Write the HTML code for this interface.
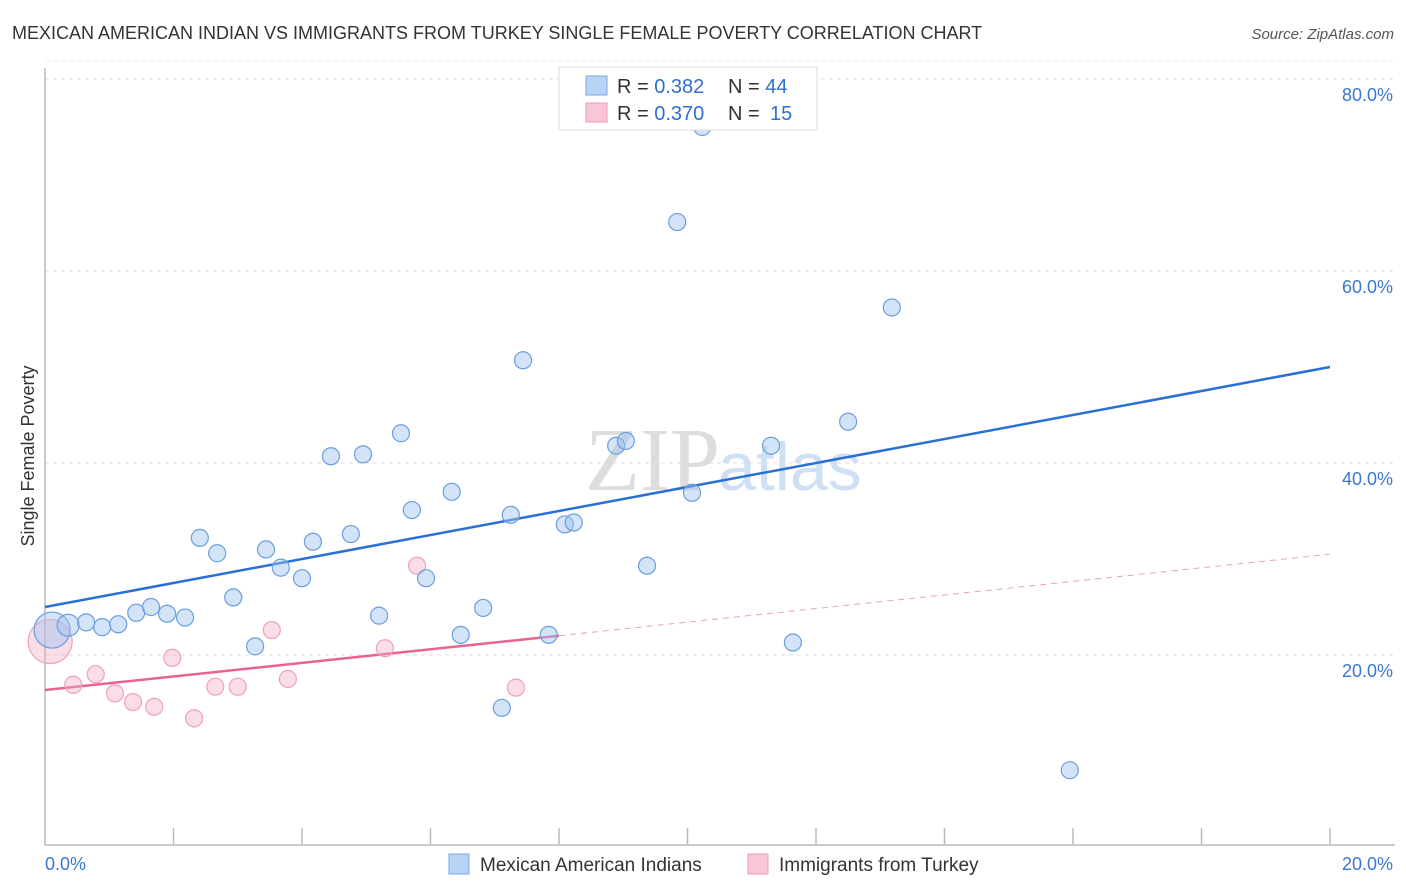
<!DOCTYPE html>
<html><head><meta charset="utf-8"><style>
body{margin:0;background:#fff;font-family:"Liberation Sans",sans-serif}
svg{display:block}
</style></head><body>
<svg id="c" width="1406" height="892" xmlns="http://www.w3.org/2000/svg">
<text x="12" y="39" font-size="18" fill="#333">MEXICAN AMERICAN INDIAN VS IMMIGRANTS FROM TURKEY SINGLE FEMALE POVERTY CORRELATION CHART</text>
<text x="1394" y="39" font-size="15" fill="#555" font-style="italic" text-anchor="end">Source: ZipAtlas.com</text>
<text x="720" y="490" font-size="90" fill="#ddd" text-anchor="end" font-family="Liberation Serif">ZIP</text>
<text x="718" y="490" font-size="68" fill="#cfe0f4">atlas</text>
<g id="grid"></g>
<g id="axes"></g>
<g id="marks"></g>
<text transform="translate(34,456) rotate(-90)" font-size="18" fill="#333" text-anchor="middle">Single Female Poverty</text>
<text x="45" y="870" font-size="18" fill="#3a78d0">0.0%</text>
<text x="1393" y="870" font-size="18" fill="#3a78d0" text-anchor="end">20.0%</text>
<g>
<rect x="559" y="67" width="258" height="63" fill="#fff" stroke="#ddd"/>
<rect x="586" y="76" width="21" height="19" fill="#b9d3f5" stroke="#7aa7e6"/>
<rect x="586" y="103" width="21" height="19" fill="#f9c6d5" stroke="#ef9ab5"/>
<text x="617" y="93" font-size="20" fill="#333">R = <tspan fill="#2f6fce">0.382</tspan><tspan x="728">N = </tspan><tspan fill="#2f6fce">44</tspan></text>
<text x="617" y="120" font-size="20" fill="#333">R = <tspan fill="#2f6fce">0.370</tspan><tspan x="728">N = </tspan><tspan fill="#2f6fce" x="770">15</tspan></text>
</g>
<g>
<rect x="449" y="854" width="20" height="20" fill="#b9d3f5" stroke="#7aa7e6"/>
<text x="480" y="871" font-size="19" fill="#333">Mexican American Indians</text>
<rect x="748" y="854" width="20" height="20" fill="#f9c6d5" stroke="#ef9ab5"/>
<text x="779" y="871" font-size="19" fill="#333">Immigrants from Turkey</text>
</g>
</svg>
<script>
const blueX=[0.11,0.36,0.64,0.89,1.14,1.42,1.65,1.90,2.18,2.41,2.68,2.93,3.27,3.44,3.67,4.00,4.17,4.45,4.76,4.95,5.20,5.54,5.71,5.93,6.33,6.47,6.82,7.11,7.25,7.44,7.84,8.09,8.23,8.89,9.04,9.37,9.84,10.07,10.23,11.30,11.64,12.50,13.18,15.95];
const blueY=[22.6,23.1,23.4,22.9,23.2,24.4,25.0,24.3,23.9,32.2,30.6,26.0,20.9,31.0,29.1,28.0,31.8,40.7,32.6,40.9,24.1,43.1,35.1,28.0,37.0,22.1,24.9,14.5,34.6,50.7,22.1,33.6,33.8,41.8,42.3,29.3,65.1,36.9,75.0,41.8,21.3,44.3,56.2,8.0];
const pinkX=[0.08,0.44,0.79,1.09,1.37,1.70,1.98,2.32,2.65,3.00,3.53,3.78,5.29,5.79,7.33];
const pinkY=[21.4,16.9,18.0,16.0,15.1,14.6,19.7,13.4,16.7,16.7,22.6,17.5,20.7,29.3,16.6];
const blueTrend=[25.0,50.0];
const pinkTrend=[16.35,30.5];
const yTicks=[20,40,60,80];
const yTickLabels=["20.0%","40.0%","60.0%","80.0%"];
const xTicks=[2,4,6,8,10,12,14,16,18,20];
const sx=v=>45+v*1285/20, sy=v=>847-v*9.6;
const NS="http://www.w3.org/2000/svg";
function mk(p,t,a){const e=document.createElementNS(NS,t);for(const k in a)e.setAttribute(k,a[k]);document.getElementById(p).appendChild(e);return e;}
yTicks.forEach((v,i)=>{
 const l=mk('grid','line',{x1:45,x2:1395,y1:sy(v),y2:sy(v),stroke:'#ddd','stroke-dasharray':'4 4'});
 
 
 const t=mk('grid','text',{x:1393,y:sy(v)+22,'font-size':18,fill:'#3a78d0','text-anchor':'end','font-family':'Liberation Sans'});
 t.textContent=yTickLabels[i];
 
 
});
mk('grid','line',{x1:45,x2:1395,y1:sy(80)-18,y2:sy(80)-18,stroke:'#eee','stroke-dasharray':'4 4'});
const ya=mk('axes','line',{x1:45,x2:45,y1:68,y2:845,stroke:'#bbb','stroke-width':1.5});


const xa=mk('axes','line',{x1:45,x2:1395,y1:845,y2:845,stroke:'#bbb','stroke-width':1.5});


xTicks.forEach(v=>{const t=mk('axes','line',{x1:sx(v),x2:sx(v),y1:828,y2:845,stroke:'#bbb','stroke-width':1.5});
 
 });
const bt=mk('marks','line',{x1:sx(0),y1:sy(blueTrend[0]),x2:sx(20),y2:sy(blueTrend[1]),stroke:'#2a6fd6','stroke-width':2.5});


const pm=(v)=>pinkTrend[0]+(pinkTrend[1]-pinkTrend[0])*v/20;
const pt=mk('marks','line',{x1:sx(0),y1:sy(pm(0)),x2:sx(8),y2:sy(pm(8)),stroke:'#e8648e','stroke-width':2.5});


const pd=mk('marks','line',{x1:sx(8),y1:sy(pm(8)),x2:sx(20),y2:sy(pm(20)),stroke:'#e8a0b8','stroke-width':1,'stroke-dasharray':'6 5'});


pinkX.forEach((x,i)=>{const c=mk('marks','circle',{cx:sx(x),cy:sy(pinkY[i]),r:i==0?22:8.5,fill:'rgba(246,170,195,0.4)',stroke:'#f0a0b8','stroke-width':1.2});
 
 });
blueX.forEach((x,i)=>{const c=mk('marks','circle',{cx:sx(x),cy:sy(blueY[i]),r:i==0?18:(i==1?11:8.5),fill:'rgba(160,196,240,0.45)',stroke:'#6a9ee0','stroke-width':1.2});
 
 });
</script>
</body></html>
